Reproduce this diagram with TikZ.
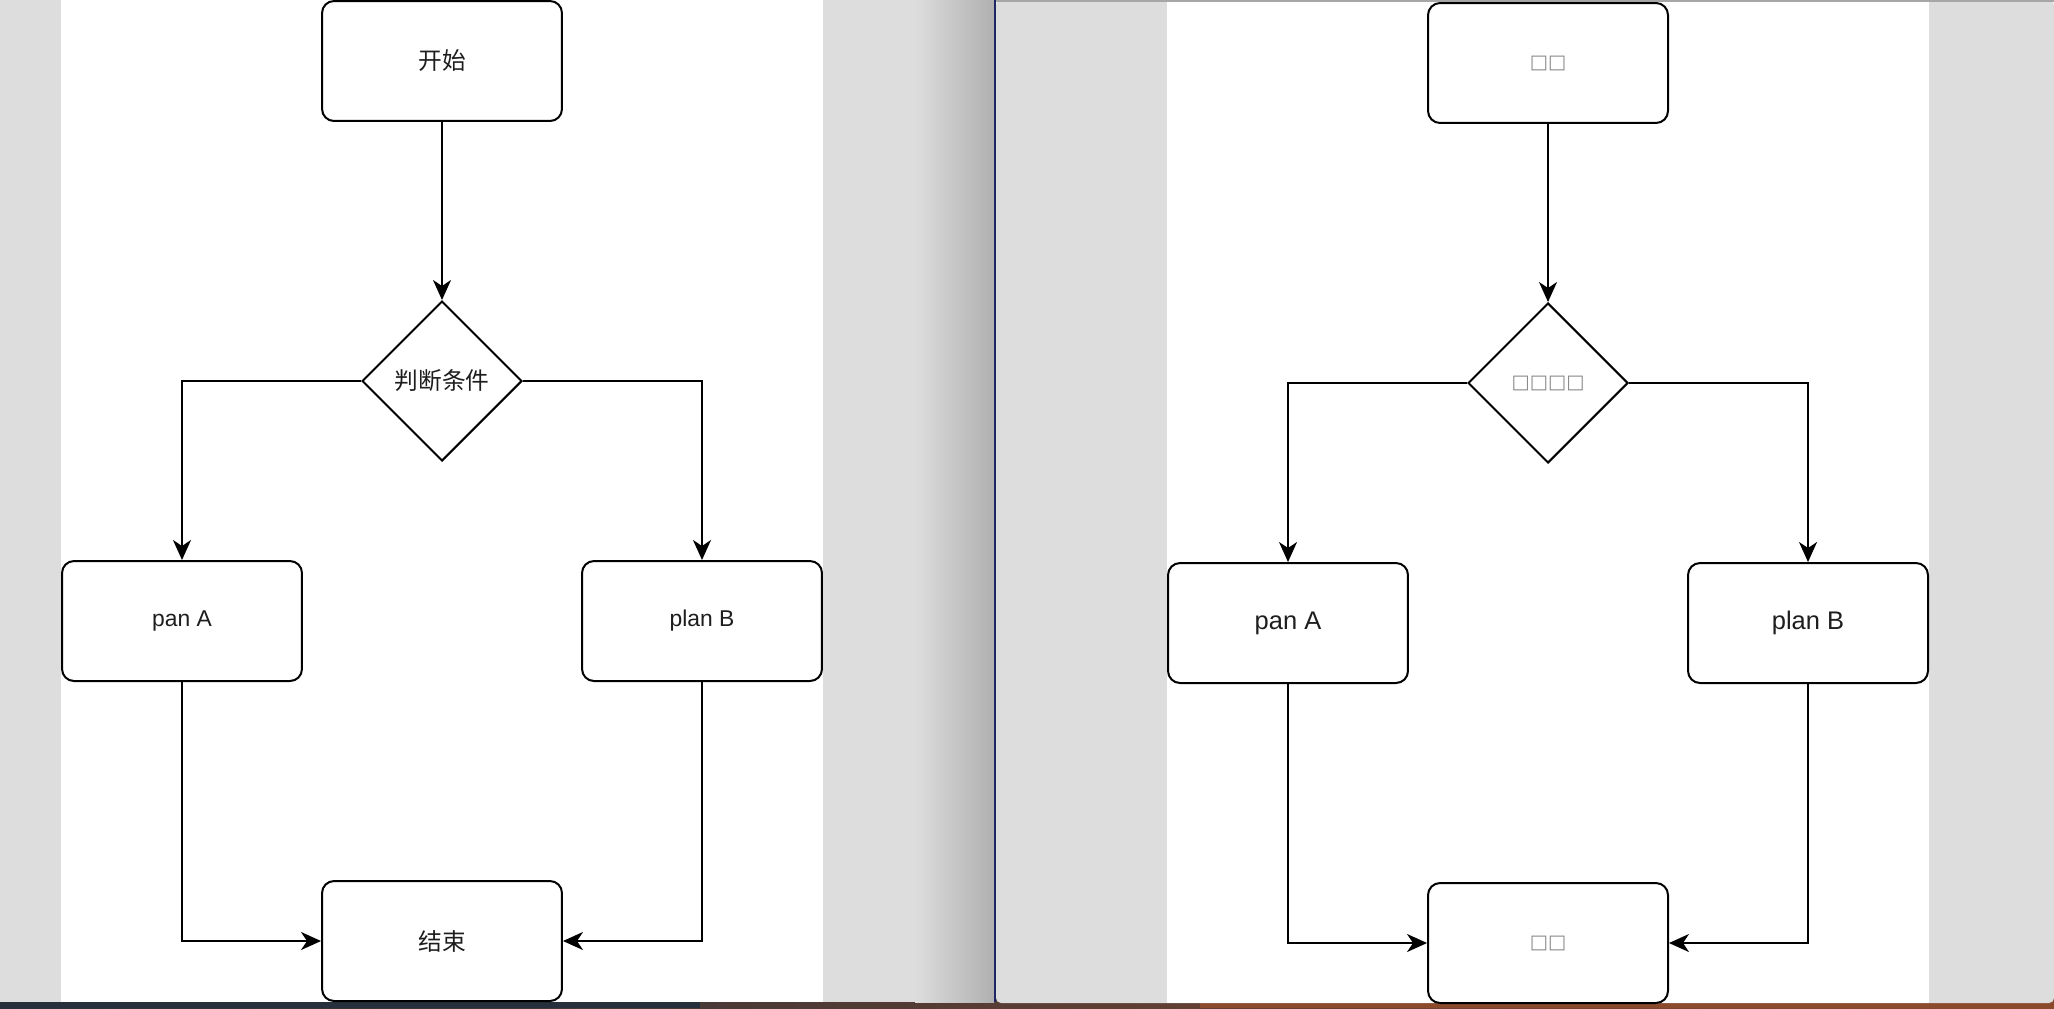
\documentclass[tikz,border=0pt]{standalone}
\usepackage{fontspec}
\setmainfont{Liberation Sans}
\newfontfamily\cjk{Noto Sans CJK SC}
\newfontfamily\symf{DejaVu Sans}
\usetikzlibrary{shapes.geometric,arrows.meta}
\definecolor{winbg}{HTML}{DDDDDD}
\definecolor{shadowdark}{HTML}{B0B0B0}
\definecolor{frameline}{HTML}{A6A6A6}
\definecolor{deskleft}{HTML}{26303C}
\definecolor{deskright}{HTML}{8C4A2C}
\definecolor{txt}{HTML}{1E1E1E}
\definecolor{tofu}{HTML}{8A8A8A}
\begin{document}
\begin{tikzpicture}[x=0.02cm,y=-0.02cm,
  stepbox/.style={draw=black, line width=0.04cm, rounded corners=0.24cm,
    fill=white, minimum width=4.8cm, minimum height=2.4cm, inner sep=0pt,
    text=txt},
  decision/.style={draw=black, diamond, line width=0.04cm, fill=white,
    minimum width=3.2cm, minimum height=3.2cm, inner sep=0pt, text=txt},
  flow/.style={line width=0.04cm, draw=black,
    -{Stealth[length=0.4cm,width=0.36cm,inset=0.12cm]}},
  zh/.style={font=\cjk\fontsize{13.5}{16}\selectfont},
  latinL/.style={font=\fontsize{13}{16}\selectfont},
  latinR/.style={font=\fontsize{14.5}{17}\selectfont},
  boxes/.style={font=\symf\fontsize{11}{13}\selectfont, text=tofu}]
\useasboundingbox (0,0) rectangle (2054,1008);

% desktop strip along the bottom
\shade[left color=deskleft, right color=deskright] (0,995) rectangle (2054,1008);
\fill[deskleft] (0,995) rectangle (700,1008);
\fill[deskright] (1200,995) rectangle (2054,1008);

% left window
\fill[winbg] (0,0) rectangle (996,1002);
\fill[white] (61,0) rectangle (823,1002);
\shade[left color=winbg, right color=shadowdark] (915,0) rectangle (994,1002);
\fill[deskleft!80!blue] (994,0) rectangle (996,1002);

% right window
\fill[winbg, rounded corners=0.1cm] (996,0) rectangle (2054,1003);
\fill[white] (1167,2) rectangle (1929,1003);
\fill[frameline] (996,0) rectangle (2054,2);

% left flowchart
\node[stepbox, zh] (s1) at (442,61) {开始};
\node[decision, zh] (d1) at (442,381) {判断条件};
\node[stepbox, latinL] (a1) at (182,621) {pan A};
\node[stepbox, latinL] (b1) at (702,621) {plan B};
\node[stepbox, zh] (e1) at (442,941) {结束};

\draw[flow] (s1) -- (d1);
\draw[flow] (d1.west) -| (a1.north);
\draw[flow] (d1.east) -| (b1.north);
\draw[flow] (a1.south) |- (e1.west);
\draw[flow] (b1.south) |- (e1.east);

% right flowchart (labels rendered without the CJK font)
\begin{scope}[shift={(1106,2)}]
\node[stepbox, boxes] (s2) at (442,61) {□□};
\node[decision, boxes] (d2) at (442,381) {□□□□};
\node[stepbox, latinR] (a2) at (182,621) {pan A};
\node[stepbox, latinR] (b2) at (702,621) {plan B};
\node[stepbox, boxes] (e2) at (442,941) {□□};
\end{scope}

\draw[flow] (s2) -- (d2);
\draw[flow] (d2.west) -| (a2.north);
\draw[flow] (d2.east) -| (b2.north);
\draw[flow] (a2.south) |- (e2.west);
\draw[flow] (b2.south) |- (e2.east);
\end{tikzpicture}
\end{document}
